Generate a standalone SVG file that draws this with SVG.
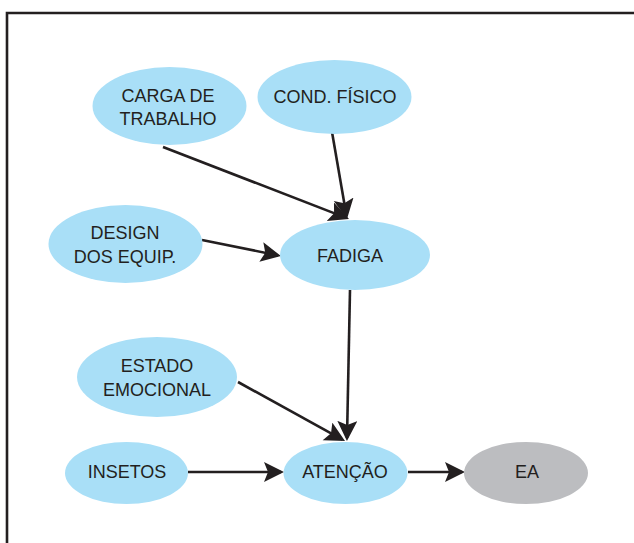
<svg xmlns="http://www.w3.org/2000/svg" width="634" height="543" viewBox="0 0 634 543">
<style>
.n{fill:#a9dff7}
.g{fill:#bcbdc0}
.t{font-family:"Liberation Sans",Arial,sans-serif;font-size:18px;fill:#231f20;text-anchor:middle}
.c{stroke:#231f20;stroke-width:2.6;fill:none}
</style>
<defs>
<marker id="ah" markerUnits="userSpaceOnUse" markerWidth="22" markerHeight="22" refX="17" refY="10" orient="auto">
<path d="M0,0 L20,10 L0,20 L4,10 z" fill="#231f20"/>
</marker>
</defs>
<rect width="634" height="543" fill="#fff"/>
<path d="M7,543 V13 H634" fill="none" stroke="#231f20" stroke-width="2.6"/>
<g id="connectors">
<path class="c" d="M163,147 L346.2,217.9" marker-end="url(#ah)"/>
<path class="c" d="M332,132 L346.5,216" marker-end="url(#ah)"/>
<path class="c" d="M202,240 L278,255.4" marker-end="url(#ah)"/>
<path class="c" d="M350,290 L347,438" marker-end="url(#ah)"/>
<path class="c" d="M238,382 L342.4,439.6" marker-end="url(#ah)"/>
<path class="c" d="M188,472 L281,472" marker-end="url(#ah)"/>
<path class="c" d="M408,472 L462,472" marker-end="url(#ah)"/>
</g>
<g id="carga"><ellipse class="n" cx="169.5" cy="106" rx="77" ry="39"/><text class="t" x="168" y="102">CARGA DE</text><text class="t" x="168" y="125">TRABALHO</text></g>
<g id="cond"><ellipse class="n" cx="334.5" cy="97" rx="77" ry="37"/><text class="t" x="335" y="103">COND. FÍSICO</text></g>
<g id="design"><ellipse class="n" cx="125.5" cy="244" rx="77" ry="39"/><text class="t" x="125" y="239">DESIGN</text><text class="t" x="125" y="263">DOS EQUIP.</text></g>
<g id="fadiga"><ellipse class="n" cx="355" cy="255" rx="75" ry="35"/><text class="t" x="350" y="262">FADIGA</text></g>
<g id="estado"><ellipse class="n" cx="157" cy="377" rx="80" ry="40"/><text class="t" x="157" y="372">ESTADO</text><text class="t" x="157" y="396">EMOCIONAL</text></g>
<g id="insetos"><ellipse class="n" cx="126.5" cy="473" rx="61.5" ry="31"/><text class="t" x="127" y="478">INSETOS</text></g>
<g id="atencao"><ellipse class="n" cx="345.5" cy="473" rx="62" ry="31"/><text class="t" x="345" y="478">ATENÇÃO</text></g>
<g id="ea"><ellipse class="g" cx="526" cy="473" rx="62" ry="31"/><text class="t" x="527" y="478">EA</text></g>
</svg>
